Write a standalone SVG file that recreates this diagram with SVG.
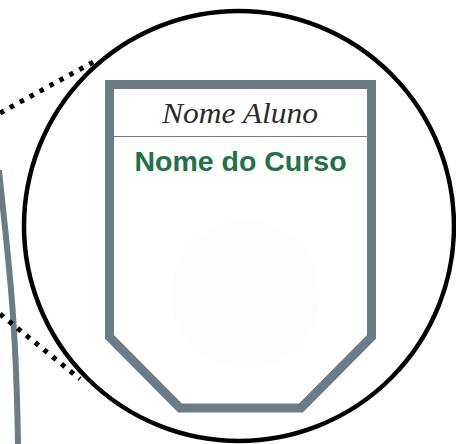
<svg xmlns="http://www.w3.org/2000/svg" width="456" height="444" viewBox="0 0 456 444">
<style>
.dots{fill:none;stroke:#000;stroke-width:5;stroke-dasharray:4.5 6.8}
.gray{fill:none;stroke:#6c7c85}
.name{font-family:"Liberation Serif",serif;font-style:italic;font-size:30px;fill:#2b2b2b}
.course{font-family:"Liberation Sans",Arial,sans-serif;font-weight:bold;font-size:28.5px;fill:#217346}
</style>
<rect width="456" height="444" fill="#fff"/>
<g id="connectors">
<path class="gray" stroke-width="6" d="M -1 170 C 8 260 16 310 18 446"/>
<line class="dots" x1="0" y1="113" x2="97" y2="60"/>
<line class="dots" x1="0" y1="314" x2="80" y2="379"/>
</g>
<g id="circle">
<circle cx="239" cy="226" r="215" fill="none" stroke="#000" stroke-width="4.5"/>
</g>
<g id="shield">
<circle cx="245.5" cy="294.5" r="74" fill="#fdfdfd"/>
<polygon class="gray" stroke-width="9" points="109.5,84.5 371.5,84.5 371.5,337 301,408 180,408 109.5,337"/>
<line class="gray" stroke-width="1" x1="114" y1="136.5" x2="367" y2="136.5"/>
<text class="name" x="240" y="123" text-anchor="middle" textLength="156" lengthAdjust="spacingAndGlyphs">Nome Aluno</text>
<text class="course" x="240.5" y="171" text-anchor="middle">Nome do Curso</text>
</g>
</svg>
